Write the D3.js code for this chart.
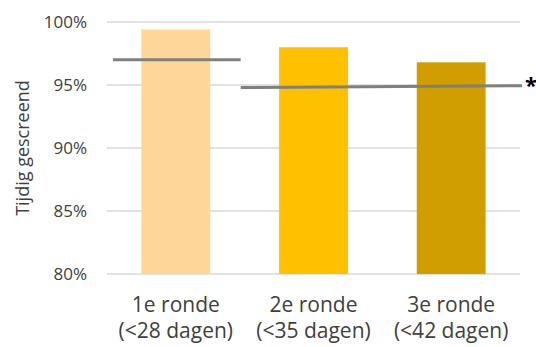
<!DOCTYPE html>
<html>
<head>
<meta charset="utf-8">
<script src="https://cdn.jsdelivr.net/npm/d3@7"></script>
<style>
  html, body { margin: 0; padding: 0; background: #fff; }
  svg text { font-family: "Open Sans", "Liberation Sans", sans-serif; fill: #404040; }
</style>
</head>
<body>
<svg id="chart" width="536" height="347"></svg>
<script>
// Screening rounds and share screened in time
const rondes = ["1e ronde", "2e ronde", "3e ronde"];
const rondeSub = ["(<28 dagen)", "(<35 dagen)", "(<42 dagen)"];
const tijdig = [0.994, 0.980, 0.968];
const kleuren = ["#FFD699", "#FFC000", "#D19E00"];
const yTicks = [0.80, 0.85, 0.90, 0.95, 1.00];
// Reference levels: first round alone, then rounds two and three together
const ref1 = { from: 0, to: 1, start: 0.970, end: 0.970 };
const ref2 = { from: 1, to: 3, start: 0.948, end: 0.9495 };

const svg = d3.select("#chart");
const plotL = 107, plotR = 520, plotT = 22, plotB = 274;

const x = d3.scaleBand().domain(rondes).range([plotL, plotR]).paddingInner(0.5).paddingOuter(0.25);
const y = d3.scaleLinear().domain([0.80, 1.00]).range([plotB, plotT]);
// continuous position along the category axis (0 = left edge, 3 = right edge)
const xc = d3.scaleLinear().domain([0, 3]).range([plotL, plotR]);

// gridlines
svg.append("g").selectAll("line").data(yTicks).join("line")
  .attr("x1", plotL).attr("x2", plotR)
  .attr("y1", d => y(d)).attr("y2", d => y(d))
  .attr("stroke", "#D9D9D9").attr("stroke-width", 1.3);

// y axis labels
const yAxis = d3.axisLeft(y).tickValues(yTicks).tickFormat(d3.format(".0%")).tickSize(0).tickPadding(0);
const ya = svg.append("g").attr("transform", `translate(87,0)`).call(yAxis);
ya.select(".domain").remove();
ya.selectAll("text").style("font-size", "17px");

// bars
svg.append("g").selectAll("rect").data(rondes).join("rect")
  .attr("x", d => x(d))
  .attr("width", x.bandwidth())
  .attr("y", (d, i) => y(tijdig[i]))
  .attr("height", (d, i) => y(0.80) - y(tijdig[i]))
  .attr("fill", (d, i) => kleuren[i]);

// reference lines
svg.append("line")
  .attr("x1", xc(ref1.from) + 6).attr("x2", xc(ref1.to) - 4)
  .attr("y1", y(ref1.start)).attr("y2", y(ref1.end))
  .attr("stroke", "#7F7F7F").attr("stroke-width", 3);
svg.append("line")
  .attr("x1", xc(ref2.from) - 4).attr("x2", xc(ref2.to) + 2)
  .attr("y1", y(ref2.start)).attr("y2", y(ref2.end))
  .attr("stroke", "#7F7F7F").attr("stroke-width", 3);
svg.append("text")
  .attr("x", xc(ref2.to) + 5).attr("y", y(ref2.end) + 7)
  .style("font-size", "22px").style("font-weight", "bold").style("fill", "#000")
  .text("*");

// category labels
const cat = svg.append("g").selectAll("text").data(rondes).join("text")
  .attr("text-anchor", "middle")
  .attr("x", d => x(d) + x.bandwidth() / 2)
  .style("font-size", "21px");
cat.append("tspan").attr("x", d => x(d) + x.bandwidth() / 2).attr("y", 312).text(d => d);
cat.append("tspan").attr("x", d => x(d) + x.bandwidth() / 2).attr("y", 338).text((d, i) => rondeSub[i]);

// axis title
svg.append("text")
  .attr("transform", `translate(29,${(plotT + plotB) / 2}) rotate(-90)`)
  .attr("text-anchor", "middle")
  .style("font-size", "18px")
  .text("Tijdig gescreend");
</script>
</body>
</html>
